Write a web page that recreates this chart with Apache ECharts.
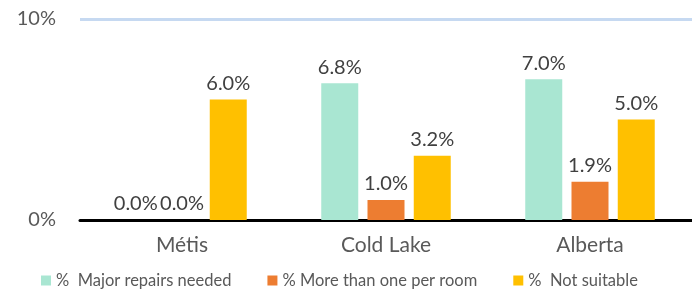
<!DOCTYPE html>
<html>
<head>
<meta charset="utf-8">
<script src="https://cdn.jsdelivr.net/npm/echarts@6/dist/echarts.min.js"></script>
<style>
  html, body { margin: 0; padding: 0; background: #fff; }
  #chart { width: 692px; height: 295px; }
</style>
</head>
<body>
<div id="chart"></div>
<script>
const categories = ['Métis', 'Cold Lake', 'Alberta']
const seriesNames = ['%  Major repairs needed', '% More than one per room', '%  Not suitable']
const majorRepairs = [0.0, 6.8, 7.0]
const crowded = [0.0, 1.0, 1.9]
const notSuitable = [6.0, 3.2, 5.0]
const colors = ['#a9e6d2', '#ed7d31', '#ffc000']

const font = 'Lato, "Open Sans", sans-serif'
const chart = echarts.init(document.getElementById('chart'), null, { renderer: 'canvas' })

function barSeries(name, data, color) {
  return {
    name,
    type: 'bar',
    data,
    barWidth: 37,
    barGap: '25%',
    itemStyle: { color },
    label: {
      show: true,
      position: 'top',
      distance: 6,
      fontFamily: font,
      fontSize: 20,
      color: '#404040',
      formatter: p => p.value.toFixed(1) + '%'
    }
  }
}

const option = {
  animation: false,
  textStyle: { fontFamily: font },
  grid: { left: 80, right: 0, top: 19, bottom: 75 },
  legend: {
    bottom: 1,
    left: 36,
    itemWidth: 10,
    itemHeight: 10,
    itemGap: 36,
    icon: 'rect',
    textStyle: { fontSize: 16.5, color: '#595959', fontFamily: font },
    data: seriesNames
  },
  xAxis: {
    type: 'category',
    data: categories,
    axisTick: { show: false },
    axisLine: { lineStyle: { color: '#000', width: 3 } },
    axisLabel: { fontSize: 21, color: '#595959', margin: 15, fontFamily: font }
  },
  yAxis: {
    type: 'value',
    min: 0,
    max: 10,
    interval: 10,
    axisLine: { show: false },
    axisTick: { show: false },
    axisLabel: { fontSize: 20, color: '#595959', margin: 24, formatter: v => v + '%', fontFamily: font },
    splitLine: { lineStyle: { color: '#c6d9f1', width: 3 } }
  },
  series: [
    barSeries(seriesNames[0], majorRepairs, colors[0]),
    barSeries(seriesNames[1], crowded, colors[1]),
    barSeries(seriesNames[2], notSuitable, colors[2])
  ]
}
chart.setOption(option)
</script>
</body>
</html>
